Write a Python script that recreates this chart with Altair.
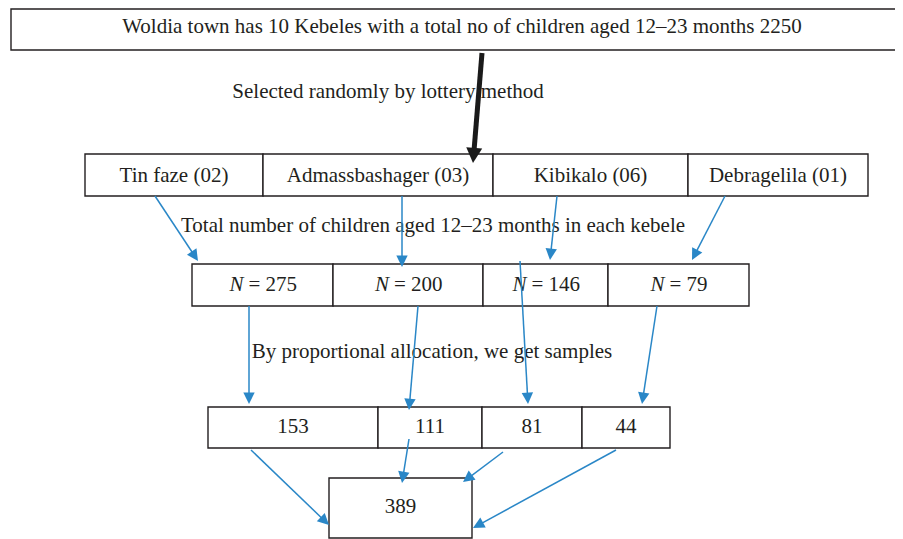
import math
import altair as alt
import pandas as pd

# ---------------- content ----------------
title_text = "Woldia town has 10 Kebeles with a total no of children aged 12\u201323 months 2250"
step_labels = [
    "Selected randomly by lottery method",
    "Total number of children aged 12\u201323 months in each kebele",
    "By proportional allocation, we get samples",
]
kebeles = ["Tin faze (02)", "Admassbashager (03)", "Kibikalo (06)", "Debragelila (01)"]
children_N = [275, 200, 146, 79]
samples = [153, 111, 81, 44]
total_sample = 389

# ---------------- layout (page pixels) ----------------
W, H = 887, 531
X0, Y0 = 8, 8

top_box = (11, 915, 9, 50)
row1_edges = [85, 263, 493, 688, 868]
row1_y = (154, 196)
row2_edges = [192, 333, 483, 608, 749]
row2_y = (264, 306)
row3_edges = [208, 378, 482, 582, 670]
row3_y = (407, 448)
bottom_box = (329, 472, 478, 538)

title_pos = (462, 27)
step_pos = [(388, 92), (433, 226), (432, 352)]
row_text_y = [176, 285, 427]
bottom_text_y = 507

blue_arrows = [
    (155, 196, 198, 261), (402, 196, 402, 267), (557, 196, 550, 260), (725, 196, 692, 260),
    (249, 306, 249, 404), (418, 306, 409, 410), (520, 261, 528, 404), (657, 306, 642, 404),
    (251, 450, 329, 525), (409, 439, 402, 483), (503, 452, 463, 482), (616, 450, 473, 528),
]
black_arrow = (482, 53, 473, 163)

FONT = "Liberation Serif"
FS = 21
INK = "#231f20"
BLUE = "#2a87c7"

# ---------------- tables ----------------
boxes = [dict(x=top_box[0], x2=top_box[1], y=top_box[2], y2=top_box[3])]
for edges, (t, b) in [(row1_edges, row1_y), (row2_edges, row2_y), (row3_edges, row3_y)]:
    for i in range(4):
        boxes.append(dict(x=edges[i], x2=edges[i + 1], y=t, y2=b))
boxes.append(dict(x=bottom_box[0], x2=bottom_box[1], y=bottom_box[2], y2=bottom_box[3]))
boxes_df = pd.DataFrame(boxes)

def centers(edges):
    return [(edges[i] + edges[i + 1]) / 2 for i in range(4)]

texts = [dict(x=title_pos[0], y=title_pos[1], t=title_text)]
for (px, py), s in zip(step_pos, step_labels):
    texts.append(dict(x=px, y=py, t=s))
for cx, s in zip(centers(row1_edges), kebeles):
    texts.append(dict(x=cx, y=row_text_y[0], t=s))
for cx, s in zip(centers(row3_edges), samples):
    texts.append(dict(x=cx, y=row_text_y[2], t=str(s)))
texts.append(dict(x=(bottom_box[0] + bottom_box[1]) / 2, y=bottom_text_y, t=str(total_sample)))
text_df = pd.DataFrame(texts)

eq_rows, n_rows = [], []
for cx, n in zip(centers(row2_edges), children_N):
    eq_x = cx - 14 + (3 - len(str(n))) * 5
    eq_rows.append(dict(x=eq_x, y=row_text_y[1], t="= " + str(n)))
    n_rows.append(dict(x=eq_x - 5, y=row_text_y[1], t="N"))
eq_df = pd.DataFrame(eq_rows)
n_df = pd.DataFrame(n_rows)

def arrow_tables(arrows, head_len):
    lines, heads = [], []
    for x1, y1, x2, y2 in arrows:
        dx, dy = x2 - x1, y2 - y1
        L = math.hypot(dx, dy)
        ux, uy = dx / L, dy / L
        lines.append(dict(x=x1, y=y1, x2=x2 - ux * head_len * 0.6, y2=y2 - uy * head_len * 0.6))
        ang = math.degrees(math.atan2(dx, -dy)) % 360
        heads.append(dict(x=x2, y=y2, a=ang))
    return pd.DataFrame(lines), pd.DataFrame(heads)

blue_lines, blue_heads = arrow_tables(blue_arrows, 11)
black_lines, black_heads = arrow_tables([black_arrow], 15)

# ---------------- chart ----------------
xs = alt.Scale(domain=[X0, X0 + W], zero=False, nice=False)
ys = alt.Scale(domain=[Y0 + H, Y0], zero=False, nice=False)
X = lambda f="x": alt.X(f"{f}:Q", scale=xs, axis=None)
Y = lambda f="y": alt.Y(f"{f}:Q", scale=ys, axis=None)

rects = alt.Chart(boxes_df).mark_rect(fill="white", stroke=INK, strokeWidth=1.4).encode(
    x=X(), x2="x2:Q", y=Y(), y2="y2:Q")

txt = alt.Chart(text_df).mark_text(font=FONT, fontSize=FS, color=INK, baseline="middle", align="center").encode(
    x=X(), y=Y(), text="t:N")
eq_txt = alt.Chart(eq_df).mark_text(font=FONT, fontSize=FS, color=INK, baseline="middle", align="left").encode(
    x=X(), y=Y(), text="t:N")
n_txt = alt.Chart(n_df).mark_text(font=FONT, fontSize=FS, color=INK, baseline="middle", align="right",
                                  fontStyle="italic").encode(x=X(), y=Y(), text="t:N")

HEAD = "M0,0L-1,2L1,2Z"
bl = alt.Chart(blue_lines).mark_rule(color=BLUE, strokeWidth=1.5).encode(x=X(), y=Y(), x2="x2:Q", y2="y2:Q")
bh = alt.Chart(blue_heads).mark_point(shape=HEAD, filled=True, color=BLUE, size=130, opacity=1, strokeWidth=0).encode(
    x=X(), y=Y(), angle=alt.Angle("a:Q", scale=None))
kl = alt.Chart(black_lines).mark_rule(color="#1a1a1a", strokeWidth=5).encode(x=X(), y=Y(), x2="x2:Q", y2="y2:Q")
kh = alt.Chart(black_heads).mark_point(shape="M0,0L-1,1.9L1,1.9Z", filled=True, color="#1a1a1a", size=256,
                                       opacity=1, strokeWidth=0).encode(
    x=X(), y=Y(), angle=alt.Angle("a:Q", scale=None))

chart = alt.layer(rects, txt, eq_txt, n_txt, kl, kh, bl, bh).properties(
    width=W, height=H, padding=0, autosize=alt.AutoSizeParams(type="none")
).configure_view(stroke=None)

chart.save("out.html", embed_options={"renderer": "svg", "actions": False})
